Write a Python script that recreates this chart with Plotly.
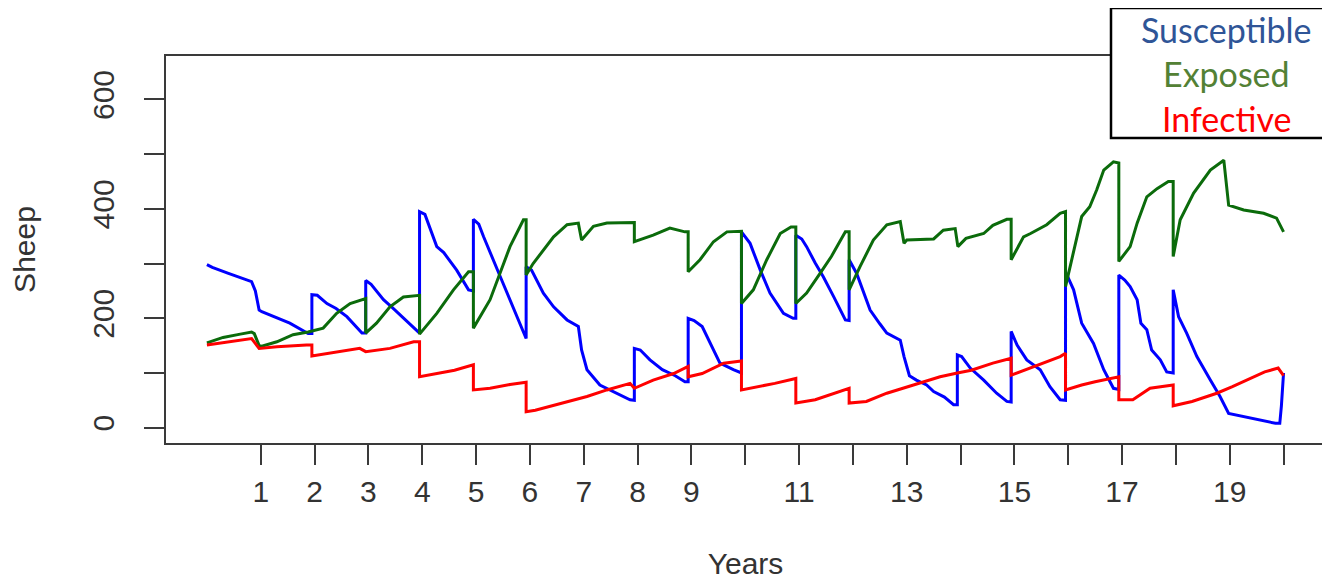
import plotly.graph_objects as go

# ---------------- data ----------------
# Susceptible (blue)
t_susceptible = [
    0, 0.1, 0.4, 0.83, 0.9, 0.97,
    1.02, 1.23, 1.54, 1.88, 1.95, 1.95,
    2.05, 2.23, 2.4, 2.6, 2.88, 2.95, 2.95,
    3.05, 3.28, 3.45, 3.65, 3.95, 3.95,
    4.05, 4.27, 4.4, 4.64, 4.86, 4.95, 4.95,
    5.05, 5.14, 5.45, 5.72, 5.93, 5.93,
    6.03, 6.25, 6.44, 6.69, 6.9, 6.96,
    7.06, 7.3, 7.61, 7.86, 7.94, 7.94,
    8.05, 8.23, 8.46, 8.7, 8.88, 8.94, 8.94,
    9.05, 9.2, 9.35, 9.53, 9.78, 9.93, 9.93,
    10.09, 10.28, 10.46, 10.71, 10.89, 10.94, 10.94,
    11.05, 11.14, 11.3, 11.45, 11.64, 11.86, 11.93, 11.93,
    12.07, 12.32, 12.5, 12.63, 12.88, 12.95,
    13.05, 13.18, 13.37, 13.5, 13.7, 13.87, 13.94, 13.94,
    14.02, 14.18, 14.43, 14.67, 14.86, 14.94, 14.94,
    15.05, 15.23, 15.48, 15.66, 15.85, 15.95, 15.95,
    16.1, 16.25, 16.47, 16.66, 16.84, 16.94, 16.94,
    17.05, 17.15, 17.28, 17.35, 17.46, 17.55, 17.71, 17.83, 17.95, 17.95,
    18.05, 18.2, 18.39, 18.64, 18.82, 18.98, 19.26, 19.57, 19.85, 19.93, 19.96, 20,
]
susceptible = [
    298, 293, 282, 267, 250, 215,
    212, 203, 191, 172, 172, 243,
    242, 227, 218, 203, 173, 173, 269,
    262, 234, 219, 200, 173, 395,
    390, 331, 320, 288, 252, 250, 381,
    372, 349, 276, 212, 163, 294,
    288, 246, 221, 197, 185, 142,
    106, 78, 63, 51, 50, 145,
    142, 124, 106, 95, 84, 84, 200,
    196, 185, 154, 118, 106, 100, 358,
    337, 288, 246, 209, 200, 200, 352,
    345, 331, 301, 276, 240, 197, 196, 307,
    282, 215, 190, 173, 160, 130,
    95, 87, 78, 66, 56, 42, 42, 133,
    130, 109, 87, 63, 48, 47, 176,
    151, 124, 106, 75, 51, 50, 285,
    252, 191, 154, 106, 72, 70, 279,
    270, 258, 234, 191, 179, 142, 124, 102, 100, 252,
    203, 173, 130, 87, 57, 26, 20, 14, 8, 8, 40, 100,
]

# Exposed (green)
t_exposed = [
    0, 0.3, 0.62, 0.83, 0.88, 0.97,
    1.02, 1.3, 1.6, 1.88,
    2.16, 2.41, 2.66, 2.95, 2.95,
    3.15, 3.4, 3.65, 3.95, 3.95,
    4.27, 4.58, 4.86, 4.95, 4.95,
    5.26, 5.63, 5.88, 5.93, 5.93,
    6.06, 6.25, 6.44, 6.69, 6.9, 6.96,
    7.18, 7.43, 7.86, 7.94, 7.94,
    8.29, 8.6, 8.88, 8.94, 8.94,
    9.16, 9.41, 9.66, 9.93, 9.93,
    10.15, 10.4, 10.65, 10.85, 10.94, 10.94,
    11.14, 11.39, 11.6, 11.86, 11.93, 11.93,
    12.13, 12.38, 12.63, 12.88, 12.95, 13.0,
    13.3, 13.5, 13.68, 13.9, 13.95,
    14.1, 14.43, 14.6, 14.86, 14.94, 14.94,
    15.17, 15.3, 15.6, 15.85, 15.95, 15.95,
    16.1, 16.25, 16.4, 16.53, 16.66, 16.84, 16.94, 16.94,
    17.15, 17.28, 17.46, 17.65, 17.86, 17.95, 17.95,
    18.08, 18.33, 18.64, 18.89, 18.98, 19.26, 19.63, 19.87, 20,
]
exposed = [
    155, 165, 171, 175, 172, 150,
    149, 157, 170, 175,
    182, 209, 227, 236, 173,
    191, 221, 239, 242, 171,
    209, 252, 285, 285, 182,
    234, 331, 380, 380, 279,
    300, 325, 349, 371, 374, 343,
    368, 374, 375, 375, 340,
    352, 365, 358, 358, 285,
    307, 340, 358, 359, 227,
    252, 307, 355, 367, 367, 227,
    246, 282, 313, 358, 358, 252,
    294, 343, 371, 377, 337, 343,
    345, 345, 361, 364, 331,
    346, 355, 370, 381, 381, 307,
    349, 355, 371, 392, 395, 258,
    325, 386, 404, 435, 471, 486, 484, 304,
    331, 374, 422, 437, 450, 450, 313,
    380, 429, 471, 489, 407, 398, 392, 383, 358,
]

# Infective (red)
t_infective = [
    0, 0.4, 0.83, 0.97,
    1.3, 1.85, 1.95, 1.95,
    2.3, 2.84, 2.95,
    3.4, 3.84, 3.95, 3.95,
    4.3, 4.6, 4.95, 4.95,
    5.26, 5.63, 5.93, 5.93,
    6.1, 6.62, 7.06,
    7.43, 7.86, 7.94,
    8.29, 8.67, 8.94, 8.94,
    9.2, 9.6, 9.93, 9.93,
    10.25, 10.55, 10.94, 10.94,
    11.3, 11.64, 11.93, 11.93,
    12.25, 12.63, 12.94, 13.25,
    13.62, 13.94, 14.2,
    14.6, 14.94, 14.94,
    15.3, 15.85, 15.95, 15.95,
    16.25, 16.5, 16.94, 16.94,
    17.2, 17.52, 17.95, 17.95,
    18.3, 18.76, 19.05, 19.38, 19.65, 19.9, 20,
]
infective = [
    151, 157, 163, 145,
    148, 151, 151, 131,
    136, 145, 139,
    145, 157, 157, 93,
    99, 105, 115, 69,
    72, 79, 83, 29,
    32, 45, 57,
    69, 81, 72,
    87, 99, 112, 93,
    99, 118, 122, 69,
    75, 81, 90, 45,
    51, 63, 72, 45,
    48, 63, 72, 81,
    93, 100, 105,
    118, 127, 96,
    109, 130, 136, 69,
    78, 84, 93, 51,
    51, 72, 78, 40,
    48, 63, 75, 90, 102, 109, 95,
]

x_ticks = list(range(1, 21))
x_tick_labels = ["1", "2", "3", "4", "5", "6", "7", "8", "9", "", "11", "",
                 "13", "", "15", "", "17", "", "19", ""]
y_ticks = [0, 100, 200, 300, 400, 500, 600]
y_tick_labels = ["0", "", "200", "", "400", "", "600"]

legend_names = ["Susceptible", "Exposed", "Infective"]
legend_text_colors = ["#2F5597", "#538135", "#FF0000"]

# ---------------- figure ----------------
AX = "#3a3a3a"
FONT = "Liberation Sans, Arial, sans-serif"

fig = go.Figure()
fig.add_trace(go.Scatter(x=t_susceptible, y=susceptible, mode="lines",
                         name="Susceptible", line=dict(color="#0000FF", width=3)))
fig.add_trace(go.Scatter(x=t_exposed, y=exposed, mode="lines",
                         name="Exposed", line=dict(color="#0b6b0b", width=3)))
fig.add_trace(go.Scatter(x=t_infective, y=infective, mode="lines",
                         name="Infective", line=dict(color="#FF0000", width=3)))

# the page body adds an 8px offset, so the figure is 8px smaller
OFF = 8
W, H = 1330 - OFF, 581 - OFF
L, T = 166 - OFF, 56 - OFF
pw, ph = 1159, 387
R, B = W - L - pw, H - T - ph


def px(xs):
    # screen x -> paper x
    return (xs - 166) / pw


def py(ys):
    # screen y -> paper y
    return (443 - ys) / ph


fig.update_layout(
    width=W, height=H,
    margin=dict(l=L, r=R, t=T, b=B, autoexpand=False),
    paper_bgcolor="white", plot_bgcolor="white",
    showlegend=False,
    font=dict(family=FONT, size=30, color="#333333"),
    xaxis=dict(
        range=[-0.76, 20.77], tickvals=x_ticks, ticktext=x_tick_labels,
        showgrid=False, zeroline=False, automargin=False,
        showline=True, mirror=True, linecolor=AX, linewidth=2,
        ticks="outside", ticklen=20, tickwidth=2, tickcolor=AX,
        ticklabelstandoff=1,
        tickfont=dict(size=30, color="#333333"),
        title=dict(text="Years", font=dict(size=30, color="#333333"), standoff=46),
    ),
    yaxis=dict(
        range=[-28, 679.5], tickvals=y_ticks, ticktext=y_tick_labels,
        showgrid=False, zeroline=False, automargin=False,
        showline=True, mirror=True, linecolor=AX, linewidth=2,
        ticks="outside", ticklen=20, tickwidth=2, tickcolor=AX,
        tickangle=-90, ticklabelstandoff=18,
        tickfont=dict(size=30, color="#333333"),
        title=dict(text="Sheep", font=dict(size=30, color="#333333"), standoff=47),
    ),
)

# legend box (text-only key)
fig.add_shape(type="rect", xref="paper", yref="paper",
              x0=px(1111), x1=px(1328), y0=py(138), y1=py(8),
              line=dict(color="black", width=2.5), fillcolor="white", layer="above")
for name, col, yc in zip(legend_names, legend_text_colors, [29, 74, 118]):
    fig.add_annotation(xref="paper", yref="paper", x=px(1226), y=py(yc),
                       text=name, showarrow=False, xanchor="center", yanchor="middle",
                       font=dict(family="Lato, Noto Sans, sans-serif", size=34, color=col))

fig.write_html("out.html")
